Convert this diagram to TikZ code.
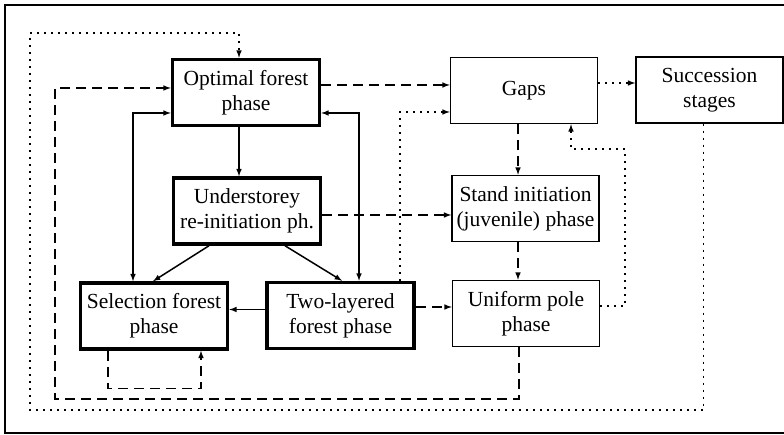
\documentclass[tikz,border=0pt]{standalone}
\usepackage{fontspec}
\setmainfont{Liberation Serif}
\usepackage{tikz}
\tikzset{
  >=latex,
}
\tikzstyle{every node}=[font=\fontsize{21.5}{25}\selectfont]
\tikzstyle{phase}=[draw,line width=1.5pt,align=center,inner sep=0pt,minimum width=147pt,minimum height=66pt]
\tikzstyle{mainphase}=[phase,line width=3.5pt]
\tikzstyle{solidline}=[line width=1.5pt,->]
\tikzstyle{dashline}=[line width=1.5pt,->,dash pattern=on 10pt off 6pt]
\tikzstyle{dotline}=[line width=1.5pt,->,dash pattern=on 2pt off 5pt]

\begin{document}
\begin{tikzpicture}[x=1pt,y=1pt]
    \useasboundingbox (0,0) rectangle (784,435);
    \draw[line width=1.2pt] (784,430)--(5,430)--(5,2)--(784,2);
    % left column, thick boxes
    \node[mainphase] (opt) at (246,342.5) {Optimal forest\\phase};
    \node[mainphase] (und) at (247,224) {Understorey\\re-initiation ph.};
    \node[mainphase] (sel) at (154,119) {Selection forest\\phase};
    \node[mainphase] (two) at (340.5,119.5) {Two-layered\\forest phase};
    % right column
    \node[phase] (gaps) at (524,344.5) {Gaps};
    \node[phase] (succ) at (709.5,345) {Succession\\stages};
    \node[phase] (stand) at (525.5,226.5) {Stand initiation\\(juvenile) phase};
    \node[phase] (unif) at (526,121.5) {Uniform pole\\phase};
    % corners of the long loops
    \coordinate (dotsw) at (30,25);
    \coordinate (dotnw) at (30,402);
    \coordinate (dashsw) at (55,36);
    \coordinate (dashnw) at (55,347);
    \coordinate (ret) at (625,286);
    \draw[dotline] ([xshift=-6pt]succ.south) |- (dotsw) -- (dotnw) -| ([xshift=-7pt]opt.north);
    \draw[dashline] ([xshift=-7pt]unif.south) |- (dashsw) -- (dashnw) -- (dashnw -| opt.west);
    % solid arrows
    \draw[solidline] ([xshift=-7pt]opt.south) -- ([xshift=-7pt]opt.south |- und.north);
    \draw[solidline,<->] ([xshift=-21pt]sel.north) |- ([yshift=-20.5pt]opt.west);
    \draw[solidline,<->] ([xshift=18.5pt]two.north) |- ([yshift=-20.5pt]opt.east);
    \draw[solidline] ([xshift=-38pt]und.south) -- ([xshift=-1pt]sel.north);
    \draw[solidline] ([xshift=38pt]und.south) -- ([xshift=1.5pt]two.north);
    \draw[solidline] ([yshift=6pt]two.west) -- ([yshift=6pt]two.west -| sel.east);
    \draw[dashline] ([xshift=-46pt]sel.south) -- ++(0,-38) -| ([xshift=47pt]sel.south);
    % dashed and dotted arrows
    \draw[dashline] ([yshift=7.5pt]opt.east) -- ([yshift=7.5pt]opt.east -| gaps.west);
    \draw[dotline] ([yshift=7.5pt]gaps.east) -- ([yshift=7.5pt]gaps.east -| succ.west);
    \draw[dashline] ([xshift=-6pt]gaps.south) -- ([xshift=-6pt]gaps.south |- stand.north);
    \draw[dashline] ([yshift=-4pt]und.east) -- ([yshift=-4pt]und.east -| stand.west);
    \draw[dashline] ([xshift=-7.5pt]stand.south) -- ([xshift=-7.5pt]stand.south |- unif.north);
    \draw[dashline] ([yshift=8.5pt]two.east) -- ([yshift=8.5pt]two.east -| unif.west);
    \draw[dotline] ([xshift=59.5pt]two.north) |- ([yshift=-21.5pt]gaps.west);
    \draw[dotline] ([yshift=7.5pt]unif.east) -| (ret) -| ([xshift=47pt]gaps.south);
\end{tikzpicture}
\end{document}
